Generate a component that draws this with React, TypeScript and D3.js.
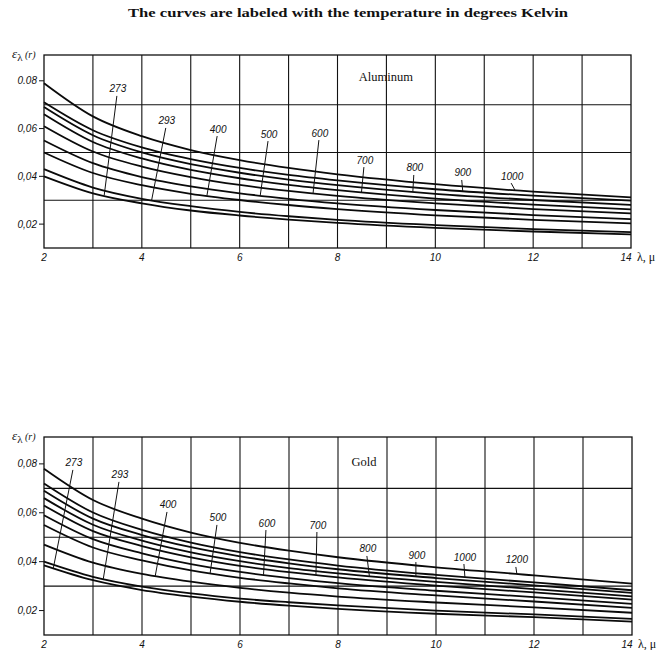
import React from "react";
import * as d3 from "d3";

// wavelength samples (microns) shared by every curve
const lambdas = [2, 3, 4, 5, 6, 7, 8, 10, 12, 14];

// Aluminum, emissivity per temperature (K)
const al273 = [0.04, 0.0329, 0.0287, 0.0257, 0.0236, 0.0219, 0.0205, 0.0184, 0.0169, 0.0157];
const al293 = [0.043, 0.0353, 0.0306, 0.0275, 0.0251, 0.0233, 0.0218, 0.0196, 0.0179, 0.0166];
const al400 = [0.05, 0.0414, 0.0363, 0.0327, 0.0301, 0.028, 0.0263, 0.0237, 0.0218, 0.0203];
const al500 = [0.055, 0.0455, 0.0397, 0.0358, 0.0329, 0.0306, 0.0287, 0.0259, 0.0238, 0.0221];
const al600 = [0.061, 0.0504, 0.0441, 0.0397, 0.0364, 0.0339, 0.0318, 0.0287, 0.0263, 0.0245];
const al700 = [0.066, 0.0544, 0.0475, 0.0427, 0.0392, 0.0364, 0.0342, 0.0307, 0.0282, 0.0262];
const al800 = [0.069, 0.0572, 0.05, 0.0451, 0.0415, 0.0386, 0.0363, 0.0327, 0.0301, 0.028];
const al900 = [0.071, 0.0593, 0.0521, 0.0472, 0.0435, 0.0406, 0.0383, 0.0346, 0.0319, 0.0298];
const al1000 = [0.079, 0.0651, 0.0568, 0.051, 0.0468, 0.0435, 0.0408, 0.0367, 0.0336, 0.0312];
const alCurves = [al273, al293, al400, al500, al600, al700, al800, al900, al1000];
const alTemps = ["273", "293", "400", "500", "600", "700", "800", "900", "1000"];
// where each temperature label sits [λ, ε] and the λ its leader points at
const alLabelAt = [[3.51, 0.0766], [4.51, 0.0632], [5.56, 0.0598], [6.6, 0.0577], [7.64, 0.0581], [8.56, 0.0468], [9.58, 0.0435], [10.56, 0.0414], [11.57, 0.0401]];
const alLeaderTo = [3.23, 4.2, 5.33, 6.42, 7.5, 8.49, 9.54, 10.56, 11.63];

// Gold
const au273 = [0.0385, 0.0324, 0.0284, 0.0257, 0.0236, 0.022, 0.0207, 0.0187, 0.0173, 0.0155];
const au293 = [0.04, 0.0338, 0.0298, 0.027, 0.0249, 0.0234, 0.0221, 0.02, 0.0184, 0.0166];
const au400 = [0.047, 0.0396, 0.035, 0.0318, 0.0293, 0.0273, 0.0257, 0.0233, 0.0213, 0.0191];
const au500 = [0.055, 0.0458, 0.0405, 0.0364, 0.0334, 0.0311, 0.0291, 0.0262, 0.0237, 0.0211];
const au600 = [0.059, 0.0492, 0.0434, 0.039, 0.0358, 0.0333, 0.0312, 0.0281, 0.0255, 0.0227];
const au700 = [0.063, 0.0525, 0.0464, 0.0418, 0.0383, 0.0357, 0.0336, 0.0302, 0.0274, 0.0245];
const au800 = [0.066, 0.0551, 0.0486, 0.0438, 0.0402, 0.0374, 0.0352, 0.0317, 0.0288, 0.0258];
const au900 = [0.069, 0.0576, 0.0509, 0.0459, 0.0422, 0.0393, 0.0369, 0.0333, 0.0303, 0.0272];
const au1000 = [0.072, 0.0601, 0.053, 0.0478, 0.0439, 0.0409, 0.0384, 0.0346, 0.0315, 0.0283];
const au1200 = [0.078, 0.0652, 0.0576, 0.0519, 0.0477, 0.0445, 0.0418, 0.0377, 0.0344, 0.031];
const auCurves = [au273, au293, au400, au500, au600, au700, au800, au900, au1000, au1200];
const auTemps = ["273", "293", "400", "500", "600", "700", "800", "900", "1000", "1200"];
const auLabelAt = [[2.61, 0.0804], [3.55, 0.0755], [4.53, 0.0632], [5.55, 0.0579], [6.55, 0.0558], [7.59, 0.055], [8.61, 0.0452], [9.61, 0.0427], [10.59, 0.0419], [11.65, 0.0407]];
const auLeaderTo = [2.19, 3.21, 4.27, 5.39, 6.48, 7.55, 8.64, 9.59, 10.59, 11.65];

const xTicks = [2, 4, 6, 8, 10, 12, 14];
const yTicks = [0.02, 0.04, 0.06, 0.08];
const yGrid = [0.03, 0.05, 0.07];
const alYTickText = ["0,02", "0,04", "0,06", "0.08"];
const auYTickText = ["0,02", "0,04", "0,06", "0,08"];

const TICK_FONT = "'Liberation Sans', Arial, sans-serif";
const SERIF = "'Liberation Serif', 'DejaVu Serif', serif";

function valueAt(curve: number[], l: number) {
  let i = d3.bisectRight(lambdas, l) - 1;
  i = Math.max(0, Math.min(lambdas.length - 2, i));
  const t = (l - lambdas[i]) / (lambdas[i + 1] - lambdas[i]);
  return curve[i] + t * (curve[i + 1] - curve[i]);
}

function Panel(props: any) {
  const { top, bottom, left, right, yTop, curves, temps, labelAt, leaderTo, yTickText, name, nameAt } = props;
  const x = d3.scaleLinear().domain([2, 14]).range([left, right]);
  const y = d3.scaleLinear().domain([0.01, yTop]).range([bottom, top]);
  const line = d3
    .line<number>()
    .x((_, i) => x(lambdas[i]))
    .y((d) => y(d))
    .curve(d3.curveMonotoneX);

  return (
    <g>
      {/* grid */}
      {x.ticks(12).filter((t) => t > 2 && t < 14).map((t) => (
        <line key={"gx" + t} x1={x(t)} x2={x(t)} y1={top} y2={bottom} stroke="#111" strokeWidth={1.1} />
      ))}
      {yGrid.map((v) => (
        <line key={"gy" + v} x1={left} x2={right} y1={y(v)} y2={y(v)} stroke="#111" strokeWidth={1.1} />
      ))}
      <rect x={left} y={top} width={right - left} height={bottom - top} fill="none" stroke="#111" strokeWidth={1.3} />

      {/* y ticks */}
      {yTicks.map((v, i) => (
        <g key={"yt" + v}>
          <line x1={left - 5} x2={left} y1={y(v)} y2={y(v)} stroke="#111" strokeWidth={1} />
          <text x={left - 7} y={y(v) + 3.5} textAnchor="end" fontSize={10} fontStyle="italic" fontFamily={TICK_FONT} fill="#111">
            {yTickText[i]}
          </text>
        </g>
      ))}
      <text x={12} y={top + 3} fontSize={13} fontFamily={SERIF} fill="#111">
        <tspan fontStyle="italic">ε</tspan>
        <tspan dy={3} fontSize={11}>λ</tspan>
        <tspan dy={-3} fontSize={10} fontStyle="italic"> (r)</tspan>
      </text>

      {/* x ticks */}
      {xTicks.map((t) => (
        <text key={"xt" + t} x={x(t) - (t === 14 ? 5 : 0)} y={bottom + 13} textAnchor="middle" fontSize={10} fontStyle="italic" fontFamily={TICK_FONT} fill="#111">
          {t}
        </text>
      ))}
      <text x={right + 6} y={bottom + 13} fontSize={12} fontFamily={SERIF} fill="#111">
        λ, μ
      </text>

      {/* curves */}
      {curves.map((c: number[], i: number) => (
        <path key={"c" + i} d={line(c) || ""} fill="none" stroke="#0a0a0a" strokeWidth={1.8} />
      ))}

      {/* temperature labels with leaders */}
      {temps.map((t: string, i: number) => {
        const lx = x(labelAt[i][0]);
        const ly = y(labelAt[i][1]);
        const ex = x(leaderTo[i]);
        const ey = y(valueAt(curves[i], leaderTo[i]));
        return (
          <g key={"lab" + t}>
            <line x1={lx - 1} y1={ly + 7} x2={ex} y2={ey} stroke="#111" strokeWidth={1} />
            <text x={lx} y={ly + 3.5} textAnchor="middle" fontSize={10} fontStyle="italic" fontFamily={TICK_FONT} fill="#111">
              {t}
            </text>
          </g>
        );
      })}

      <text x={x(nameAt[0])} y={y(nameAt[1]) + 4} textAnchor="middle" fontSize={12.5} fontFamily={SERIF} fill="#111">
        {name}
      </text>
    </g>
  );
}

export default function App() {
  return (
    <svg width={660} height={650} style={{ position: "absolute", left: 0, top: 0, background: "#fff" }}>
      <rect width={660} height={650} fill="#fff" />
      <text x={348} y={17} textAnchor="middle" fontSize={13} fontWeight="bold" fontFamily={SERIF} fill="#111" textLength={440} lengthAdjust="spacingAndGlyphs">
        The curves are labeled with the temperature in degrees Kelvin
      </text>
      <Panel
        top={55}
        bottom={248}
        left={44}
        right={631}
        yTop={0.0908}
        curves={alCurves}
        temps={alTemps}
        labelAt={alLabelAt}
        leaderTo={alLeaderTo}
        yTickText={alYTickText}
        name="Aluminum"
        nameAt={[8.99, 0.0816]}
      />
      <Panel
        top={437}
        bottom={635}
        left={44}
        right={632}
        yTop={0.091}
        curves={auCurves}
        temps={auTemps}
        labelAt={auLabelAt}
        leaderTo={auLeaderTo}
        yTickText={auYTickText}
        name="Gold"
        nameAt={[8.53, 0.0808]}
      />
    </svg>
  );
}
